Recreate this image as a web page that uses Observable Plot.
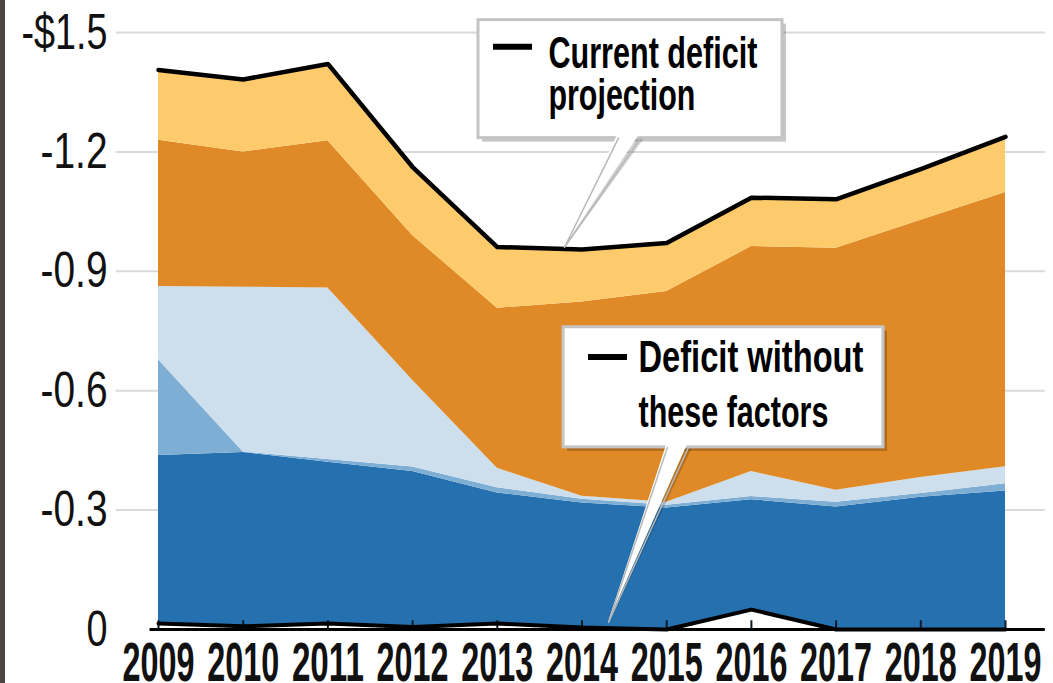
<!DOCTYPE html>
<html>
<head>
<meta charset="utf-8">
<script src="https://cdn.jsdelivr.net/npm/d3@7"></script>
<script src="https://cdn.jsdelivr.net/npm/@observablehq/plot@0.6"></script>
<style>
  html, body { margin: 0; padding: 0; background: #fff; }
  #wrap { position: relative; width: 1053px; height: 683px; overflow: hidden; }
  #edge { position: absolute; left: 0; top: 0; width: 5px; height: 683px; background: #4a4442; z-index: 2; }
  svg { display: block; }
</style>
</head>
<body>
<div id="wrap"><div id="edge"></div></div>
<script>
// ---- data (values in trillions of dollars, negative = deficit) ----
const years = [2009, 2010, 2011, 2012, 2013, 2014, 2015, 2016, 2017, 2018, 2019];
const withoutFactors = [-0.015, -0.008, -0.015, -0.006, -0.015, -0.005, 0, -0.05, 0, 0, 0];
const darkBlueTop   = [-0.437, -0.445, -0.420, -0.397, -0.343, -0.318, -0.305, -0.326, -0.308, -0.332, -0.348];
const midBlueTop    = [-0.678, -0.446, -0.427, -0.408, -0.356, -0.327, -0.312, -0.334, -0.320, -0.342, -0.366];
const lightBlueTop  = [-0.862, -0.860, -0.858, -0.626, -0.405, -0.335, -0.320, -0.397, -0.350, -0.382, -0.409];
const orangeTop     = [-1.229, -1.200, -1.228, -0.990, -0.807, -0.823, -0.849, -0.962, -0.958, -1.028, -1.098];
const currentDeficit = [-1.406, -1.382, -1.421, -1.162, -0.961, -0.955, -0.971, -1.085, -1.081, -1.157, -1.238];
const yTicks = [0, -0.3, -0.6, -0.9, -1.2, -1.5];
const yTickLabels = ["0", "-0.3", "-0.6", "-0.9", "-1.2", "-$1.5"];
const callout1Lines = ["Current deficit", "projection"];
const callout2Lines = ["Deficit without", "these factors"];

// ---- tables built from the arrays ----
const rows = years.map((year, i) => ({
  year,
  base: withoutFactors[i],
  db: darkBlueTop[i],
  mb: midBlueTop[i],
  lb: lightBlueTop[i],
  ot: orangeTop[i],
  cd: currentDeficit[i]
}));
const layers = [
  {lo: "base", hi: "db", color: "#2571b0"},
  {lo: "db", hi: "mb", color: "#7eaed4"},
  {lo: "mb", hi: "lb", color: "#cddfed"},
  {lo: "lb", hi: "ot", color: "#df8a27"},
  {lo: "ot", hi: "cd", color: "#fdcb6c"}
];

// annotation layout (data coordinates: year, value)
const boxes = [
  {x1: 2012.778, x2: 2016.367, y1: -1.531, y2: -1.2346,
   lx1: 2012.955, lx2: 2013.416, ly: -1.464,
   tx: 2013.604, ty: [-1.4098, -1.305], widths: [209, 147], lines: callout1Lines,
   pl: 2014.431, pr: 2014.691, tipX: 2013.793, tipY: -0.9605},
  {x1: 2013.782, x2: 2017.560, y1: -0.7594, y2: -0.4576,
   lx1: 2014.077, lx2: 2014.537, ly: -0.6847,
   tx: 2014.667, ty: [-0.647, -0.5087], widths: [225, 190], lines: callout2Lines,
   pl: 2015.009, pr: 2015.257, tipX: 2014.313, tipY: -0.0176}
];

// target rendered widths of the condensed lettering (pixels)
const textWidths = new Map();
years.forEach(y => textWidths.set(String(y), 72));
[["0", 21], ["-0.3", 67], ["-0.6", 67], ["-0.9", 67], ["-1.2", 67], ["-$1.5", 86]].forEach(([t, w]) => textWidths.set(t, w));
boxes.forEach(b => b.lines.forEach((t, i) => textWidths.set(t, b.widths[i])));

const font = "'Liberation Sans', Arial, sans-serif";

const marks = [];
// gridlines
marks.push(Plot.ruleY(yTicks.slice(1), {x1: 2008.5, x2: 2019.47, stroke: "#dadada", strokeWidth: 2}));
// stacked areas
for (const L of layers) {
  marks.push(Plot.areaY(rows, {x: "year", y1: L.lo, y2: L.hi, fill: L.color, curve: "linear"}));
}
// baseline axis
marks.push(Plot.ruleY([0], {x1: 2008.9, x2: 2019.47, stroke: "#000", strokeWidth: 3}));
marks.push(Plot.ruleX(years, {x: d => d, y1: 0, y2: -0.022, stroke: "#0d1a26", strokeWidth: 2}));
// lines
marks.push(Plot.line(rows, {x: "year", y: "base", stroke: "#000", strokeWidth: 4}));
marks.push(Plot.line(rows, {x: "year", y: "cd", stroke: "#000", strokeWidth: 4.5}));
// y axis
marks.push(Plot.axisY({ticks: yTicks, tickFormat: d => yTickLabels[yTicks.indexOf(d)], tickSize: 0, tickPadding: 51, fontSize: 50, fill: "#111"}));
// year labels
marks.push(Plot.text(years, {x: d => d, y: 0, dy: 51, text: d => String(d), lineAnchor: "bottom", fontSize: 55, fontWeight: "bold", fill: "#111"}));

// callouts
boxes.forEach((b) => {
  marks.push(Plot.rect([b], {x1: "x1", x2: "x2", y1: "y1", y2: "y2", fill: "#000", fillOpacity: 0.22, dx: 4, dy: 4}));
  marks.push(Plot.areaX([{y: b.tipY, a: b.tipX + 0.02, c: b.tipX + 0.02}, {y: b.y2, a: b.pl + 0.05, c: b.pr + 0.05}], {y: "y", x1: "a", x2: "c", fill: "#000", fillOpacity: 0.18}));
  marks.push(Plot.rect([b], {x1: "x1", x2: "x2", y1: "y1", y2: "y2", fill: "#fff", stroke: "#c4c4c4", strokeWidth: 3}));
  marks.push(Plot.areaX([{y: b.tipY, a: b.tipX, c: b.tipX}, {y: b.y2 - 0.012, a: b.pl, c: b.pr}], {y: "y", x1: "a", x2: "c", fill: "#fff"}));
  marks.push(Plot.line([{x: b.pl, y: b.y2}, {x: b.tipX, y: b.tipY}, {x: b.pr, y: b.y2}], {x: "x", y: "y", stroke: "#b8b8b8", strokeWidth: 1.5}));
  marks.push(Plot.ruleY([b.ly], {x1: b.lx1, x2: b.lx2, stroke: "#000", strokeWidth: 6}));
  marks.push(Plot.text(b.lines.map((t, i) => ({t, y: b.ty[i]})), {x: () => b.tx, y: "y", text: "t", textAnchor: "start", lineAnchor: "bottom", fontSize: 44, fontWeight: "bold", fill: "#000"}));
});

const chart = Plot.plot({
  width: 1053,
  height: 683,
  marginLeft: 158,
  marginRight: 48,
  marginTop: 32,
  marginBottom: 54,
  x: {domain: [2009, 2019], axis: null},
  y: {domain: [0, -1.5], axis: null},
  style: {fontFamily: font, background: "transparent", overflow: "visible"},
  marks
});
document.getElementById("wrap").appendChild(chart);

// condensed lettering like the original: squeeze each label horizontally about its anchor
chart.querySelectorAll("text").forEach(el => {
  const w = textWidths.get(el.textContent.trim());
  if (!w) return;
  const natural = el.getComputedTextLength();
  if (!natural) return;
  const r = w / natural;
  const ax = parseFloat(el.getAttribute("x") || "0") || 0;
  const t = el.getAttribute("transform") || "";
  el.setAttribute("transform", `${t} translate(${ax},0) scale(${r},1) translate(${-ax},0)`.trim());
});
</script>
</body>
</html>
